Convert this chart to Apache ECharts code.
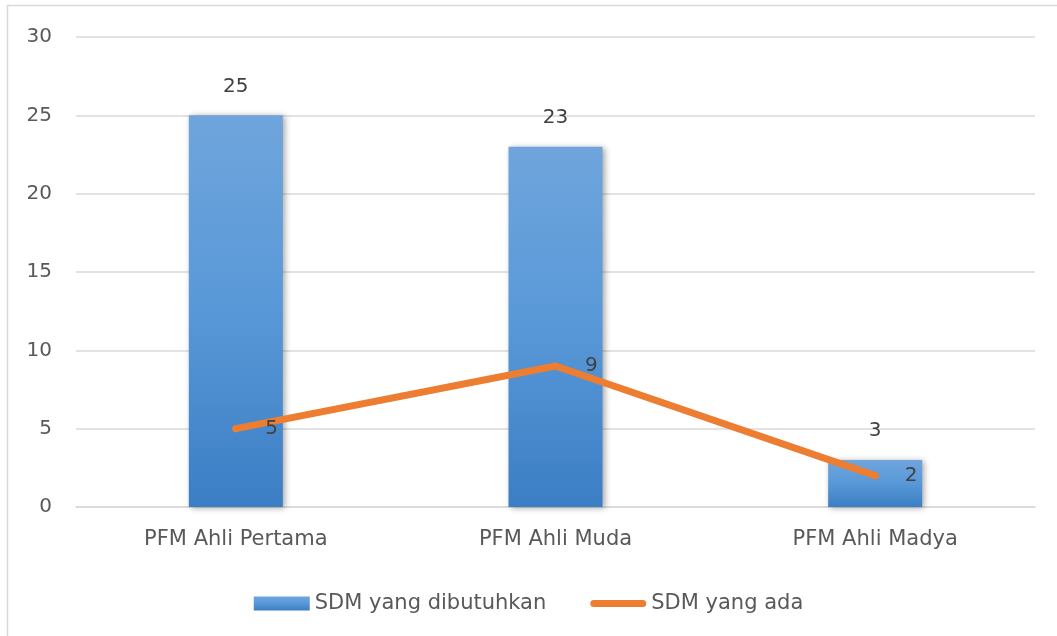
<!doctype html>
<html>
<head>
<meta charset="UTF-8">
<title></title>
<script src="https://cdn.jsdelivr.net/npm/echarts@6/dist/echarts.min.js"></script>
<style>
	html, body { margin: 0; padding: 0; background: #fff; }
	#chart { width: 1057px; height: 636px; }
</style>
</head>
<body>
<div id="chart"></div>
<script type="text/javascript">
	var categories = ['PFM Ahli Pertama', 'PFM Ahli Muda', 'PFM Ahli Madya'];
	var dibutuhkan = [25, 23, 3];
	var ada = [5, 9, 2];
	var yTicks = [0, 5, 10, 15, 20, 25, 30];

	var font = 'Tahoma, "DejaVu Sans", sans-serif';
	var myChart = echarts.init(document.getElementById('chart'));
	var option = {
		animation: false,
		backgroundColor: '#fff',
		textStyle: { fontFamily: font },
		graphic: [{
			type: 'rect',
			shape: { x: 7.5, y: 5.5, width: 1200, height: 800 },
			style: { fill: 'none', stroke: '#d9d9d9', lineWidth: 1.5 },
			silent: true
		}],
		grid: { left: 76, right: 22, top: 37, bottom: 129 },
		legend: {
			top: 588,
			left: 'center',
			itemGap: 44,
			itemWidth: 56,
			itemHeight: 14,
			textStyle: { fontSize: 21, color: '#595959', fontFamily: font },
			data: [
				{ name: 'SDM yang dibutuhkan', icon: 'rect' },
				{ name: 'SDM yang ada', icon: 'path://M3.5,0 L52.5,0 A3.5,3.5 0 0 1 52.5,7 L3.5,7 A3.5,3.5 0 0 1 3.5,0 Z' }
			]
		},
		xAxis: {
			type: 'category',
			data: categories,
			axisTick: { show: false },
			axisLine: { lineStyle: { color: '#d9d9d9', width: 1.5 } },
			axisLabel: { fontSize: 21, color: '#595959', margin: 22 }
		},
		yAxis: {
			type: 'value',
			min: yTicks[0],
			max: yTicks[yTicks.length - 1],
			interval: 5,
			axisLine: { show: false },
			axisTick: { show: false },
			splitLine: { lineStyle: { color: '#d9d9d9', width: 1.5 } },
			axisLabel: { fontSize: 20, color: '#595959', margin: 24 }
		},
		series: [{
			name: 'SDM yang dibutuhkan',
			type: 'bar',
			barWidth: 94,
			data: dibutuhkan,
			itemStyle: {
				color: new echarts.graphic.LinearGradient(0, 0, 0, 1, [
					{ offset: 0, color: '#6fa5dc' },
					{ offset: 0.5, color: '#5898d8' },
					{ offset: 1, color: '#3c7ec4' }
				]),
				shadowBlur: 6,
				shadowColor: 'rgba(0,0,0,0.35)',
				shadowOffsetX: 2,
				shadowOffsetY: 1
			},
			label: {
				show: true,
				position: 'top',
				distance: 19,
				fontSize: 20,
				color: '#404040'
			}
		}, {
			name: 'SDM yang ada',
			type: 'line',
			data: ada,
			symbol: 'circle',
			symbolSize: 7,
			itemStyle: { color: '#ed7d31' },
			lineStyle: { color: '#ed7d31', width: 7, cap: 'round', join: 'round' },
			label: {
				show: true,
				position: 'right',
				distance: 26,
				fontSize: 20,
				color: '#404040'
			}
		}]
	};
	myChart.setOption(option);
</script>
</body>
</html>
